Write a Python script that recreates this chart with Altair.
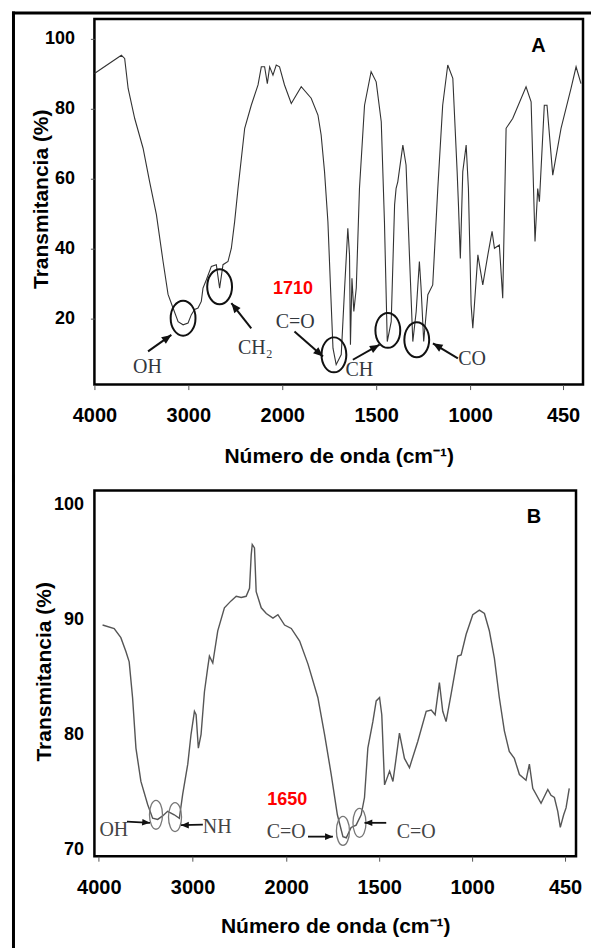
import altair as alt
import pandas as pd

# ---------------- Panel A spectrum ----------------
a_wavenumber = [4000, 3713, 3678, 3641, 3571, 3482, 3412, 3340, 3269, 3216,
                3163, 3109, 3056, 3003, 2968, 2933, 2897, 2862, 2844, 2808,
                2755, 2702, 2667, 2631, 2578, 2542, 2507, 2471, 2400, 2330,
                2258, 2223, 2188, 2159, 2134, 2099, 2064, 2029, 1988, 1952,
                1899, 1846, 1810, 1793, 1775, 1757, 1743, 1730, 1713,
                1686, 1668, 1651, 1642, 1637, 1629, 1619, 1606, 1589, 1562,
                1527, 1500, 1473, 1456, 1441, 1420, 1402, 1394, 1385, 1358,
                1341, 1323, 1305, 1287, 1270, 1261, 1247, 1225, 1199, 1172,
                1146, 1119, 1092, 1069, 1062, 1052, 1039, 1021, 1009, 994,
                984, 954, 925, 895, 870, 856, 827, 807, 787, 748,
                669, 639, 616, 600, 590, 561, 545, 511, 462, 403,
                373, 344]
a_transmittance = [90.1, 95.3, 94.4, 85.8, 77.2, 68.7, 59.1, 49.7, 36.3, 26.9,
                   23.0, 19.1, 18.2, 18.7, 21.1, 22.6, 23.0, 24.9, 28.7, 31.1,
                   34.9, 35.4, 28.7, 35.4, 36.3, 40.1, 47.7, 57.2, 74.4, 81.0,
                   86.8, 92.0, 92.0, 87.2, 92.0, 89.6, 92.5, 92.0, 86.8, 81.5,
                   86.3, 83.0, 78.2, 72.5, 62.0, 47.7, 28.7, 11.5, 6.8,
                   9.7, 28.7, 45.8, 38.2, 12.5, 31.5, 22.0, 28.7, 57.2, 81.0,
                   90.6, 87.7, 76.3, 47.7, 13.4, 19.1, 52.5, 57.2, 59.1, 69.6,
                   63.9, 38.2, 13.4, 22.0, 36.3, 28.7, 13.4, 26.8, 29.6, 57.2,
                   81.0, 92.5, 88.7, 62.0, 52.5, 37.2, 62.0, 69.6, 57.2, 23.9,
                   17.2, 38.2, 29.6, 38.2, 44.9, 40.1, 41.0, 25.8, 74.4, 77.2,
                   86.3, 82.0, 42.0, 57.2, 53.4, 81.0, 81.0, 61.0, 74.4, 85.8,
                   92.0, 87.2]

# ---------------- Panel B spectrum ----------------
b_wavenumber = [3960, 3836, 3765, 3711, 3676, 3640, 3604, 3551, 3479, 3426,
                3372, 3319, 3266, 3195, 3141, 3105, 3051, 3016, 2980, 2962,
                2938, 2909, 2873, 2838, 2820, 2784, 2731, 2660, 2589, 2534,
                2481, 2428, 2392, 2374, 2363, 2339, 2321, 2267, 2213, 2142,
                2089, 2018, 1973, 1928, 1883, 1830, 1794, 1758, 1725, 1695,
                1677, 1651, 1624, 1597, 1579, 1561, 1534, 1516, 1498, 1486,
                1471, 1444, 1426, 1409, 1391, 1364, 1337, 1292, 1247, 1220,
                1199, 1176, 1158, 1140, 1113, 1077, 1059, 1032, 996, 957,
                927, 898, 868, 839, 809, 780, 750, 720, 681, 661,
                641, 592, 552, 533, 513, 493, 478, 458, 444, 434,
                425]
b_transmittance = [89.5, 89.2, 88.4, 87.2, 86.3, 83.2, 78.8, 75.9, 73.9, 72.7,
                   72.6, 72.9, 73.3, 73.0, 72.7, 74.8, 77.4, 80.0, 82.0, 81.7,
                   78.8, 80.0, 83.7, 85.8, 86.8, 86.2, 89.0, 91.0, 91.6, 92.0,
                   91.9, 92.0, 92.7, 95.6, 96.5, 96.2, 92.4, 91.0, 90.5, 90.1,
                   90.4, 89.5, 89.2, 88.1, 86.1, 83.2, 80.0, 76.5, 73.0, 71.1,
                   71.0, 71.9, 72.1, 73.0, 74.5, 78.8, 81.1, 82.9, 83.2, 81.7,
                   75.6, 76.8, 75.9, 77.9, 80.1, 77.9, 77.1, 79.4, 82.0, 82.1,
                   81.7, 84.5, 82.0, 81.1, 83.5, 86.8, 86.9, 88.7, 90.4, 90.8,
                   90.5, 89.0, 86.6, 83.2, 80.3, 78.5, 77.9, 76.5, 76.0, 77.4,
                   75.3, 74.0, 75.2, 74.7, 74.5, 73.3, 71.9, 73.0, 73.6, 74.5,
                   75.3]

# ---------------- axis ticks ----------------
x_tick_values = [4000, 3000, 2000, 1500, 1000, 450]
a_y_tick_values = [20, 40, 60, 80, 100]
b_y_tick_values = [70, 80, 90, 100]

# ---------------- annotations A ----------------
a_circle_wn = [3056, 2667, 1725, 1438, 1284]
a_circle_t = [20.1, 29.1, 9.6, 16.6, 13.9]
a_label_text = ["OH", "CH\u2082", "C=O", "CH", "CO"]
a_label_wn = [3436, 2287, 1931, 1590, 988]
a_label_t = [6.0, 11.7, 19.1, 5.4, 8.3]
a_arrow_tail_wn = [3429, 2330, 1935, 1624, 1065]
a_arrow_tail_t = [10.6, 17.2, 16.3, 8.2, 8.6]
a_arrow_head_wn = [3181, 2542, 1783, 1482, 1198]
a_arrow_head_t = [15.3, 24.4, 9.1, 12.5, 12.9]
a_arrow_angle = [54, 321, 131, 61, 301]
a_peak_text = ["1710"]
a_peak_wn = [1943]
a_peak_t = [28.3]
a_panel_text = ["A"]
a_panel_wn = [595]
a_panel_t = [97.9]

# ---------------- annotations B ----------------
b_circle_wn = [3390, 3187, 1695, 1606]
b_circle_t = [73.0, 72.8, 71.6, 72.3]
b_label_text = ["OH", "NH", "C=O", "C=O"]
b_label_wn = [3840, 2737, 2000, 1301]
b_label_t = [71.65, 71.9, 71.5, 71.5]
b_arrow_tail_wn = [3700, 2890, 1883, 1462]
b_arrow_tail_t = [72.4, 72.15, 71.1, 72.3]
b_arrow_head_wn = [3454, 3123, 1749, 1579]
b_arrow_head_t = [72.3, 72.1, 71.1, 72.3]
b_arrow_angle = [95, 270, 90, 270]
b_peak_text = ["1650"]
b_peak_wn = [1995]
b_peak_t = [74.26]
b_panel_text = ["B"]
b_panel_wn = [634]
b_panel_t = [98.9]

SANS = "Liberation Sans"
SERIF = "Liberation Serif"
XTITLE = "Número de onda (cm\u207b\u00b9)"
YTITLE = "Transmitancia (%)"

ELLIPSE_A = "M0,-1 A0.71,1 0 1,1 0,1 A0.71,1 0 1,1 0,-1 Z"
ELLIPSE_B = "M0,-1 A0.45,1 0 1,1 0,1 A0.45,1 0 1,1 0,-1 Z"
ARROWHEAD = "M0,0 L-0.5,1.2 L0.5,1.2 Z"

one_row = pd.DataFrame({"k": [0]})


def x_axis(title_y):
    return alt.Axis(values=x_tick_values, format="d", grid=False, domain=False,
                    ticks=True, tickSize=5, tickColor="#555", tickWidth=1,
                    labelFont=SANS, labelFontSize=20,
                    labelFontWeight="bold", labelColor="black", labelPadding=16,
                    labelFlush=False, labelOverlap=False,
                    title=XTITLE, titleFont=SANS, titleFontSize=21,
                    titleFontWeight="bold", titleColor="black",
                    titleY=title_y, titleBaseline="middle")


def y_axis(values, ticks, label_padding, title_x, title_y):
    return alt.Axis(values=values, format="d", grid=False, domain=False,
                    ticks=ticks, tickSize=4, tickColor="#555",
                    labelFont=SANS, labelFontSize=18, labelFontWeight="bold",
                    labelColor="black", labelPadding=label_padding,
                    title=YTITLE, titleFont=SANS, titleFontSize=21,
                    titleFontWeight="bold", titleColor="black", titleAngle=270,
                    titleX=title_x, titleY=title_y, titleBaseline="middle",
                    titleAlign="center")


def panel(curve_wn, curve_t, xs, ys, xax, yax, line_color, line_width,
          circ_wn, circ_t, ellipse, ell_size, ell_color, ell_width,
          lab_text, lab_wn, lab_t, lab_color,
          tail_wn, tail_t, head_wn, head_t, angles, arrow_width, head_size,
          peak_text, peak_wn, peak_t, pan_text, pan_wn, pan_t,
          width, height, frame_top, frame_bottom, with_top):
    X = lambda f: alt.X(f"{f}:Q", scale=xs, axis=xax)
    Y = lambda f: alt.Y(f"{f}:Q", scale=ys, axis=yax)

    curve = alt.Chart(pd.DataFrame({"wn": curve_wn, "t": curve_t})).mark_line(
        color=line_color, strokeWidth=line_width).encode(x=X("wn"), y=Y("t"))

    circles = alt.Chart(pd.DataFrame({"wn": circ_wn, "t": circ_t})).mark_point(
        shape=ellipse, size=ell_size, filled=False, color=ell_color,
        strokeWidth=ell_width, opacity=1).encode(x=X("wn"), y=Y("t"))

    arr_df = pd.DataFrame({"wn": tail_wn, "t": tail_t, "wn2": head_wn,
                           "t2": head_t, "ang": angles})
    shafts = alt.Chart(arr_df).mark_rule(color="#111", strokeWidth=arrow_width).encode(
        x=X("wn"), y=Y("t"), x2="wn2:Q", y2="t2:Q")
    heads = alt.Chart(arr_df).mark_point(
        shape=ARROWHEAD, size=head_size, filled=True, color="#111", opacity=1).encode(
        x=X("wn2"), y=Y("t2"), angle=alt.Angle("ang:Q", scale=None))

    labels = alt.Chart(pd.DataFrame({"wn": lab_wn, "t": lab_t, "txt": lab_text})).mark_text(
        font=SERIF, fontSize=20, color=lab_color, align="center", baseline="middle").encode(
        x=X("wn"), y=Y("t"), text="txt:N")

    peak = alt.Chart(pd.DataFrame({"wn": peak_wn, "t": peak_t, "txt": peak_text})).mark_text(
        font=SANS, fontSize=18, fontWeight="bold", color="#ff0000", align="center",
        baseline="middle").encode(x=X("wn"), y=Y("t"), text="txt:N")

    pan = alt.Chart(pd.DataFrame({"wn": pan_wn, "t": pan_t, "txt": pan_text})).mark_text(
        font=SANS, fontSize=20, fontWeight="bold", color="black", align="center",
        baseline="middle").encode(x=X("wn"), y=Y("t"), text="txt:N")

    layers = [curve, circles, shafts, heads, labels, peak, pan]

    # outer figure frame (decoration), drawn as filled bars
    left_bar = alt.Chart(one_row).mark_rect(color="black", strokeWidth=0).encode(
        x=alt.value(-82.5), x2=alt.value(-79.5),
        y=alt.value(frame_top), y2=alt.value(frame_bottom))
    layers.append(left_bar)
    if with_top:
        top_bar = alt.Chart(one_row).mark_rect(color="black", strokeWidth=0).encode(
            x=alt.value(-82.5), x2=alt.value(497),
            y=alt.value(frame_top), y2=alt.value(frame_top + 3))
        layers.append(top_bar)

    return alt.layer(*layers).properties(width=width, height=height)


a_xs = alt.Scale(domain=[4000, 2000, 1000, 332], range=[0, 188, 376, 489], nice=False, zero=False)
a_ys = alt.Scale(domain=[1.1, 105.7], nice=False, zero=False)
b_xs = alt.Scale(domain=[4047, 2000, 1000, 385], range=[0, 192, 378, 482], nice=False, zero=False)
b_ys = alt.Scale(domain=[69.4, 101.2], nice=False, zero=False)

panel_a = panel(a_wavenumber, a_transmittance, a_xs, a_ys, x_axis(72),
                y_axis(a_y_tick_values, True, 16, -53, 180), "#333", 1.1,
                a_circle_wn, a_circle_t, ELLIPSE_A, 1225, "#111", 2,
                a_label_text, a_label_wn, a_label_t, "#33373d",
                a_arrow_tail_wn, a_arrow_tail_t, a_arrow_head_wn, a_arrow_head_t,
                a_arrow_angle, 2, 260,
                a_peak_text, a_peak_wn, a_peak_t, a_panel_text, a_panel_wn, a_panel_t,
                489, 366, -7.5, 464, True)

panel_b = panel(b_wavenumber, b_transmittance, b_xs, b_ys, x_axis(70),
                y_axis(b_y_tick_values, False, 11, -50, 181), "#555", 1.4,
                b_circle_wn, b_circle_t, ELLIPSE_B, 841, "#777", 1.3,
                b_label_text, b_label_wn, b_label_t, "#444",
                b_arrow_tail_wn, b_arrow_tail_t, b_arrow_head_wn, b_arrow_head_t,
                b_arrow_angle, 1.8, 170,
                b_peak_text, b_peak_wn, b_peak_t, b_panel_text, b_panel_wn, b_panel_t,
                482, 366, -16, 458, False)

chart = alt.vconcat(panel_a, panel_b, spacing=-12).properties(
    padding={"left": 10.5, "top": 9.5, "right": 0, "bottom": 0},
    background="white",
).configure_view(stroke="black", strokeWidth=2.5)

chart.save("out.html", embed_options={"renderer": "svg", "actions": False})
